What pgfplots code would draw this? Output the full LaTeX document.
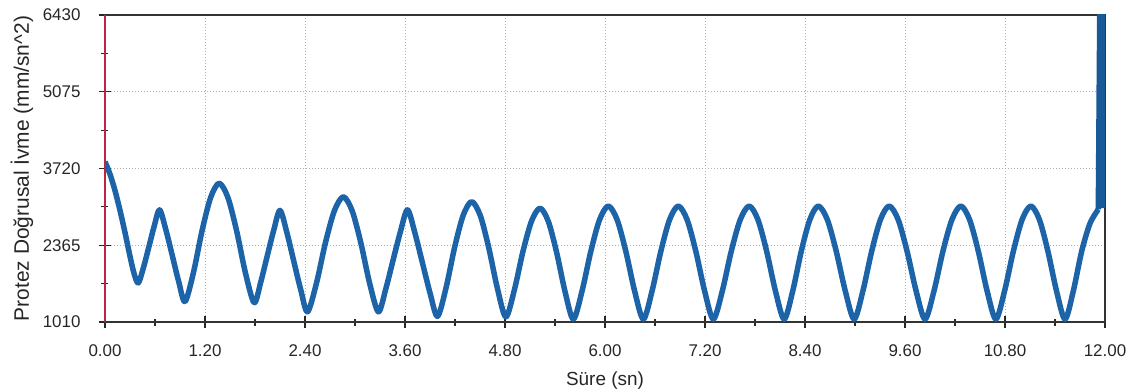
\documentclass[border=0pt]{standalone}
\usepackage{fontspec}
\setmainfont{Liberation Sans}
\usepackage{pgfplots}
\pgfplotsset{compat=1.18}
\definecolor{curve}{RGB}{28,99,168}
\definecolor{axisred}{RGB}{190,35,65}
\begin{document}
\begin{tikzpicture}
\begin{axis}[
  name=ax,
  scale only axis,
  width=1000bp, height=307bp,
  xmin=0, xmax=12, ymin=1010, ymax=6430,
  clip mode=individual,
  xtick pos=bottom, ytick pos=left,
  xtick={0,1.2,2.4,3.6,4.8,6,7.2,8.4,9.6,10.8,12},
  xticklabels={0.00,1.20,2.40,3.60,4.80,6.00,7.20,8.40,9.60,10.80,12.00},
  minor xtick={0.6,1.8,3.0,4.2,5.4,6.6,7.8,9.0,10.2,11.4},
  ytick={1010,2365,3720,5075,6430},
  yticklabels={1010,2365,3720,5075,6430},
  minor ytick={1687.5,3042.5,4397.5,5752.5},
  grid=major,
  major grid style={gray!60, line width=0.9bp, dash pattern=on 1bp off 2bp},
  tick align=center,
  major tick length=12bp,
  minor tick length=7bp,
  every tick/.style={black!85, line width=1.2bp},
  axis line style={black!80, line width=1.2bp},
  ticklabel style={font=\fontsize{17}{20}\selectfont, text=black!85},
  yticklabel style={xshift=-15bp},
  xticklabel style={yshift=-13bp},
  xlabel={Süre (sn)},
  ylabel={Protez Doğrusal İvme (mm/sn\textasciicircum 2)},
  every axis x label/.style={at={(axis description cs:0.5,-0.192)}, anchor=center, font=\fontsize{19}{22}\selectfont, text=black!85},
  every axis y label/.style={at={(axis description cs:-0.083,0.5)}, anchor=center, rotate=90, font=\fontsize{21}{24}\selectfont, text=black!85},
]
\addplot[curve, line width=5.5bp, smooth, tension=0.5, line join=round] coordinates {
(0.00,3840)(0.06,3620)(0.12,3330)(0.18,2980)(0.24,2590)(0.30,2170)(0.35,1860)(0.40,1700)
(0.464,1984)(0.528,2345)(0.591,2706)(0.655,2990)
(0.731,2634)(0.808,2180)(0.884,1726)(0.96,1370)
(1.063,1893)(1.165,2624)(1.268,3209)(1.37,3460)
(1.475,3207)(1.58,2616)(1.685,1878)(1.79,1350)
(1.868,1709)(1.945,2165)(2.023,2621)(2.10,2980)
(2.183,2586)(2.265,2085)(2.348,1584)(2.43,1190)
(2.538,1698)(2.645,2408)(2.753,2976)(2.86,3220)
(2.965,2976)(3.07,2408)(3.175,1698)(3.28,1190)
(3.368,1586)(3.455,2090)(3.543,2594)(3.63,2990)
(3.72,2576)(3.81,2050)(3.90,1524)(3.99,1110)
(4.093,1616)(4.195,2325)(4.298,2892)(4.40,3135)
(4.503,2891)(4.605,2321)(4.708,1609)(4.81,1100)
(4.913,1580)(5.015,2252)(5.118,2790)(5.22,3020)
(5.32,2785)(5.42,2236)(5.52,1550)(5.62,1060)
(5.725,1559)(5.83,2258)(5.935,2817)(6.04,3057)
(6.145,2817)(6.25,2258)(6.355,1559)(6.46,1060)
(6.565,1559)(6.67,2258)(6.775,2817)(6.88,3057)
(6.985,2817)(7.09,2258)(7.195,1559)(7.30,1060)
(7.408,1559)(7.515,2258)(7.623,2817)(7.73,3057)
(7.835,2817)(7.94,2258)(8.045,1559)(8.15,1060)
(8.253,1559)(8.355,2258)(8.458,2817)(8.56,3057)
(8.668,2817)(8.775,2258)(8.883,1559)(8.99,1060)
(9.095,1559)(9.20,2258)(9.305,2817)(9.41,3057)
(9.518,2817)(9.625,2258)(9.733,1559)(9.84,1060)
(9.948,1559)(10.055,2258)(10.163,2817)(10.27,3057)
(10.375,2817)(10.48,2258)(10.585,1559)(10.69,1060)
(10.795,1559)(10.90,2258)(11.005,2817)(11.11,3057)
(11.213,2817)(11.315,2258)(11.418,1559)(11.52,1060)
(11.62,1559)(11.72,2258)(11.82,2750)(11.92,3000)
};
\addplot[curve!90!black, line width=5.5bp, line join=round] coordinates {
(11.92,3000)(11.937,6430)(11.976,6430)(11.976,3020)
};
\draw[axisred, line width=1.3bp] (rel axis cs:0,0) -- (rel axis cs:0,1);
\end{axis}
\pgfresetboundingbox
\path[use as bounding box] ([shift={(-105bp,-70bp)}]ax.south west) rectangle ([shift={(36bp,15bp)}]ax.north east);
\end{tikzpicture}
\end{document}
